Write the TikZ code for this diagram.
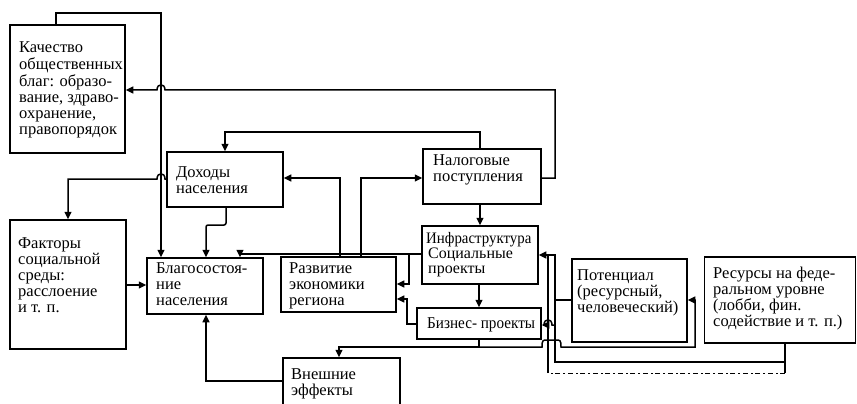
\documentclass[tikz,border=0pt]{standalone}
\usepackage{fontspec}
\usepackage{graphicx}
\setmainfont{Liberation Serif}
\usetikzlibrary{arrows.meta}
\tikzset{
  box/.style={draw, line width=1.5pt, inner sep=0pt, fill=white},
  txt/.style={inner sep=0pt, anchor=base west, font=\fontsize{16.5}{16}\selectfont},
  conn/.style={line width=1.5pt, line join=miter},
  arr/.style={conn, -{Triangle[length=7.5pt,width=7pt]}},
  faint/.style={line width=1pt, dash pattern=on 5pt off 2.5pt on 2pt off 3pt}
}
\newcommand{\ml}[1]{\begin{tabular}[t]{@{}l@{}}#1\end{tabular}}
\begin{document}
\begin{tikzpicture}[x=1pt,y=-1pt]
\useasboundingbox (0,0) rectangle (857,404);
\clip (0,0) rectangle (857,404);
\fill[white] (0,0) rectangle (857,404);

% boxes
\node[box, minimum width=115pt, minimum height=128pt] (kach) at (67.5,89) {};
\node[box, minimum width=116pt, minimum height=55pt] (doh) at (225,179.5) {};
\node[box, minimum width=118pt, minimum height=55pt] (nal) at (482,176.5) {};
\node[box, minimum width=116pt, minimum height=129pt] (fak) at (68,284.5) {};
\node[box, minimum width=116pt, minimum height=56pt] (blag) at (205,286) {};
\node[box, minimum width=115pt, minimum height=55pt] (razv) at (338.5,284.5) {};
\node[box, minimum width=116pt, minimum height=58pt] (inf) at (480,255) {};
\node[box, minimum width=124pt, minimum height=31pt] (biz) at (479,323.5) {};
\node[box, minimum width=117pt, minimum height=62pt] (vnesh) at (341.5,389) {};
\node[box, minimum width=115pt, minimum height=83pt] (pot) at (629.5,300.5) {};
\node[box, minimum width=151pt, minimum height=86pt] (res) at (780,300) {};

% texts
\node[txt] (kachT) at (19,53) {\ml{Качество\\общественных\\благ: образо-\\вание, здраво-\\охранение,\\правопорядок}};
\node[txt] (dohT) at (176,177) {\ml{Доходы\\населения}};
\node[txt] (nalT) at (433,165) {\ml{Налоговые\\поступления}};
\node[txt] (fakT) at (18,248) {\ml{Факторы\\социальной\\среды:\\расслоение\\и т. п.}};
\node[txt] (blagT) at (156,273) {\ml{Благосостоя-\\ние\\населения}};
\node[txt] (razvT) at (289,273) {\ml{Развитие\\экономики\\региона}};
\node[txt, font=\fontsize{16}{15}\selectfont] (infT) at (426,243) {\scalebox{0.93}[1]{Инфраструктура}};
\node[txt, font=\fontsize{16}{15}\selectfont] (infT2) at (428,258) {\ml{Социальные\\проекты}};
\node[txt] (bizT) at (427,328) {\scalebox{0.92}[1]{Бизнес- проекты}};
\node[txt] (vneshT) at (291,379) {\ml{Внешние\\эффекты}};
\node[txt] (potT) at (577,280) {\ml{Потенциал\\(ресурсный,\\человеческий)}};
\node[txt] (resT) at (713,278) {\ml{Ресурсы на феде-\\ральном уровне\\(лобби, фин.\\содействие и т. п.)}};

% junction coordinates
\coordinate (jb) at (479,347);
\coordinate (jr) at (555,325);
\coordinate (jr2) at (555,300);

% connectors
\draw[arr] (kach.north -| 56,0) -- (56,13) -- (161,13) -- (blag.north -| 161,0);
\draw[arr] (nal.east |- 0,178) -- (555,178) -- (555,90) -- (165,90) .. controls (165,83) and (157,83) .. (157,90) -- (kach.east |- 0,90);
\draw[arr] (nal.north -| 480,0) |- (225,132) -- (doh.north -| 225,0);
\draw[arr] (doh.west |- 0,179) -- (165,179) .. controls (165,172) and (157,172) .. (157,179) -- (68,179) -- (fak.north -| 68,0);
\draw[arr, rounded corners=2pt] (doh.south -| 226,0) -- (226,225) -- (206,225) -- (blag.north -| 206,0);
\draw[arr] (inf.west |- 0,254) -- (240,254) -- (blag.north -| 240,0);
\draw[arr] (inf.west |- 0,254) -| (409,284) -- (razv.east |- 0,284);
\draw[arr] (biz.west |- 0,324) -| (407,299) -- (razv.east |- 0,299);
\draw[arr] (razv.north -| 340,0) |- (doh.east |- 0,178);
\draw[arr] (razv.north -| 361,0) |- (nal.west |- 0,178);
\draw[arr] (nal.south -| 480,0) -- (inf.north -| 480,0);
\draw[arr] (inf.south -| 479,0) -- (biz.north -| 479,0);
\draw[arr] (biz.south -| 479,0) -- (jb) -| (vnesh.north -| 339,0);
\draw[arr] (jb) -- (542,347) .. controls (542,340) and (543,340) .. (547,340) -- (556,340) .. controls (560,340) and (561,340) .. (561,347) -- (695,347) -- (695,300) -- (pot.east |- 0,300);
\draw[arr] (fak.east |- 0,285) -- (blag.west |- 0,285);
\draw[arr] (vnesh.west |- 0,381) -| (blag.south -| 206,0);
\draw[arr] (res.south -| 785,0) -- (785,362) -- (555,362) -- (555,255) -- (inf.east |- 0,255);
\draw[arr] (jr) -- (552,325) .. controls (552,318) and (544,318) .. (544,325) -- (biz.east |- 0,325);
\draw[conn] (pot.west |- 0,300) -- (jr2);
\draw[conn] (785,362) -- (785,373);
\draw[faint] (785,373) -- (548,373);
\draw[conn] (548,373) -- (548,255);
\end{tikzpicture}
\end{document}
